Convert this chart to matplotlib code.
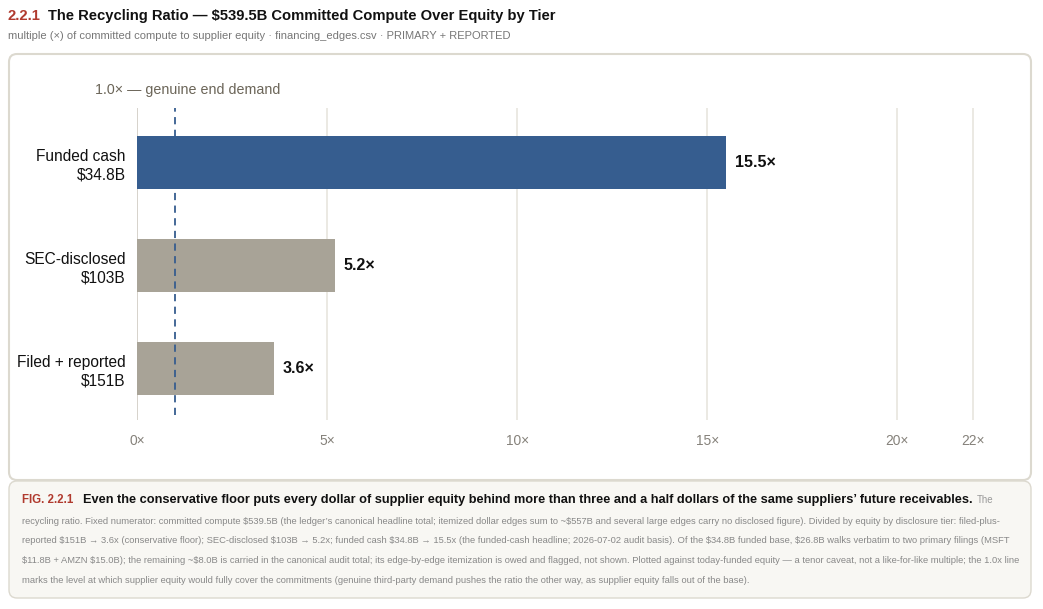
import matplotlib.pyplot as plt
from matplotlib.patches import FancyBboxPatch

plt.rcParams['font.family'] = ['Liberation Sans', 'DejaVu Sans']
plt.rcParams['text.parse_math'] = False

tiers = ['Funded cash\n$34.8B', 'SEC-disclosed\n$103B', 'Filed + reported\n$151B']
ratios = [15.5, 5.2, 3.6]
bar_colors = ['#365d8f', '#a8a397', '#a8a397']
ticks = [0, 5, 10, 15, 20, 22]
tick_labels = ['0×', '5×', '10×', '15×', '20×', '22×']
demand_line = 1.0

caption_lines = [
    "recycling ratio. Fixed numerator: committed compute $539.5B (the ledger’s canonical headline total; itemized dollar edges sum to ~$557B and several large edges carry no disclosed figure). Divided by equity by disclosure tier: filed-plus-",
    "reported $151B → 3.6x (conservative floor); SEC-disclosed $103B → 5.2x; funded cash $34.8B → 15.5x (the funded-cash headline; 2026-07-02 audit basis). Of the $34.8B funded base, $26.8B walks verbatim to two primary filings (MSFT",
    "$11.8B + AMZN $15.0B); the remaining ~$8.0B is carried in the canonical audit total; its edge-by-edge itemization is owed and flagged, not shown. Plotted against today-funded equity — a tenor caveat, not a like-for-like multiple; the 1.0x line",
    "marks the level at which supplier equity would fully cover the commitments (genuine third-party demand pushes the ratio the other way, as supplier equity falls out of the base).",
]

W, H = 1043, 609
fig = plt.figure(figsize=(W / 100, H / 100), dpi=100)
fig.patch.set_facecolor('white')

# pixel-space background axes for cards and text
bg = fig.add_axes([0, 0, 1, 1], zorder=0)
bg.set_xlim(0, W)
bg.set_ylim(H, 0)
bg.axis('off')

bg.add_patch(FancyBboxPatch((9, 54), 1022, 426, boxstyle='round,pad=0,rounding_size=8',
                            fc='white', ec='#dcd9cf', lw=1.5))
bg.add_patch(FancyBboxPatch((9, 481), 1022, 117, boxstyle='round,pad=0,rounding_size=8',
                            fc='#f8f7f3', ec='#dcd9cf', lw=1.0))

# title
t1 = bg.text(8, 16, '2.2.1', color='#b03a2e', fontsize=10.7, fontweight='bold', va='center')
fig.canvas.draw()
r = fig.canvas.get_renderer()
bb = t1.get_window_extent(r)
bg.text(bb.x1 + 7, 16, 'The Recycling Ratio — $539.5B Committed Compute Over Equity by Tier',
        color='#111111', fontsize=10.6, fontweight='bold', va='center')
bg.text(8, 36, 'multiple (×) of committed compute to supplier equity · financing_edges.csv · PRIMARY + REPORTED',
        color='#777777', fontsize=8, va='center')

bg.text(95, 90, '1.0× — genuine end demand', color='#6b6558', fontsize=10.3, va='center')

# caption
f1 = bg.text(22, 500, 'FIG. 2.2.1', color='#b03a2e', fontsize=8.3, fontweight='bold', va='center')
fig.canvas.draw()
bb = f1.get_window_extent(r)
f2 = bg.text(bb.x1 + 10, 500,
             'Even the conservative floor puts every dollar of supplier equity behind more than three and a half dollars of the same suppliers’ future receivables.',
             color='#111111', fontsize=9.15, fontweight='bold', va='center')
fig.canvas.draw()
bb = f2.get_window_extent(r)
bg.text(bb.x1 + 4, 500, 'The', color='#999999', fontsize=7, va='center')
for i, line in enumerate(caption_lines):
    bg.text(22, 521 + i * 19.7, line, color='#888888', fontsize=6.75, va='center')

# chart
ax = fig.add_axes([137 / W, 1 - 420 / H, 863 / W, 312 / H], zorder=1)
ax.patch.set_alpha(0)
y = range(len(tiers))
ax.barh(y, ratios, height=0.515, color=bar_colors, zorder=3)
for yi, v in zip(y, ratios):
    ax.text(v + 0.22, yi, f'{v}×', va='center', ha='left', fontsize=11.5,
            fontweight='bold', color='#111111', zorder=4)

ax.set_xlim(0, 22.7)
ax.set_ylim(2.5, -0.53)
ax.set_xticks(ticks)
ax.set_xticklabels(tick_labels)
ax.set_yticks(list(y))
ax.set_yticklabels(tiers, fontsize=11.2, color='#111111', linespacing=1.3)
ax.tick_params(axis='y', length=0, pad=8)
ax.tick_params(axis='x', length=0, pad=10, labelsize=9.9, labelcolor='#85817a')
for s in ax.spines.values():
    s.set_visible(False)
for t in ticks:
    ax.axvline(t, color='#cfcbc2' if t == 0 else '#e8e5de', lw=1.2, zorder=1)
ax.axvline(demand_line, color='#365d8f', lw=1.3, ls=(0, (4, 3)), zorder=5, ymin=0.015, ymax=1.0)

plt.savefig('out.png', dpi=100)
